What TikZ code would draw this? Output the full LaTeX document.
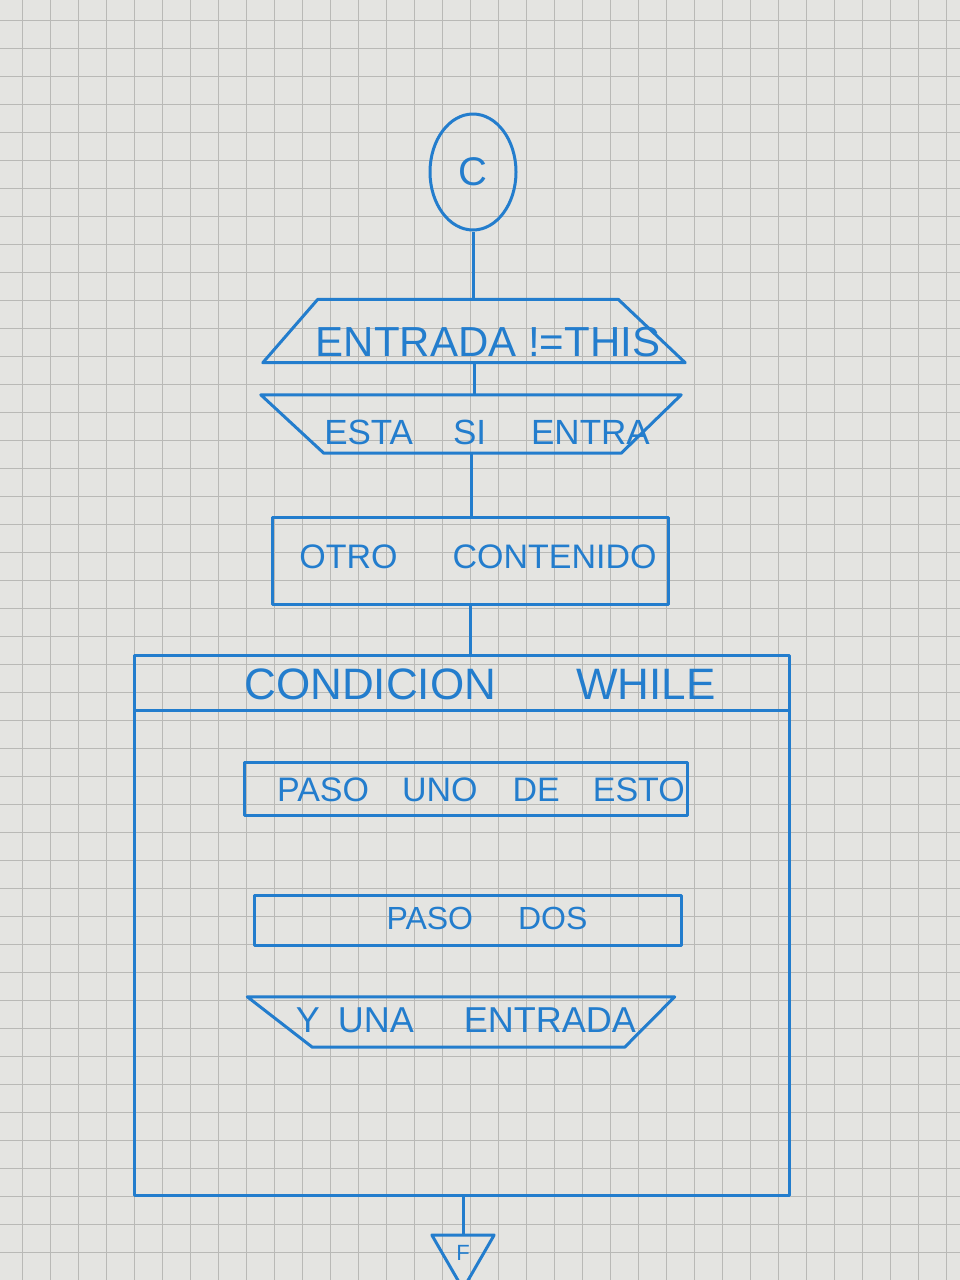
\documentclass[tikz,border=0pt]{standalone}
\usepackage{fontspec}
\setmainfont{Liberation Sans}
\usetikzlibrary{shapes.geometric,calc}
\definecolor{ink}{RGB}{35,125,205}
\definecolor{paper}{RGB}{228,228,225}
\definecolor{gridc}{RGB}{185,185,182}
\newcommand{\fs}[1]{\fontsize{#1}{#1}\selectfont}
\begin{document}
\begin{tikzpicture}[x=1pt,y=-1pt,
  inkline/.style={draw=ink,line width=3pt,line join=round},
  lbl/.style={text=ink,inner sep=0pt},
  ioarea/.style={rectangle,inner sep=0pt},
  procbox/.style={inkline,rectangle,inner sep=0pt},
  conn/.style={draw=ink,line width=3pt},
  gridline/.style={draw=gridc,line width=0.9pt}]
\fill[paper] (0,0) rectangle (960,1280);
\useasboundingbox (0,0) rectangle (960,1280);
\foreach \gx in {22,50,...,960} \draw[gridline] (\gx,0) -- (\gx,1280);
\foreach \gy in {20,48,...,1280} \draw[gridline] (0,\gy) -- (960,\gy);

% start connector
\node[inkline,ellipse,minimum width=86,minimum height=116,inner sep=0pt,text=ink,font={\fs{40}}] (start) at (473,172) {C};

% input / output shapes
\node[ioarea,minimum width=422,minimum height=63] (in1) at (474,331) {};
\draw[inkline] (in1.south west) -- ($(in1.north west)+(55,0)$) -- ($(in1.north east)+(-67,0)$) -- (in1.south east) -- cycle;
\node[lbl,font={\fs{42}}] (t1) at (488,342) {ENTRADA !=THIS};

\node[ioarea,minimum width=420,minimum height=58] (in2) at (471,424) {};
\draw[inkline] (in2.north west) -- (in2.north east) -- ($(in2.south east)+(-60,0)$) -- ($(in2.south west)+(63,0)$) -- cycle;
\node[lbl,font={\fs{35}}] (t2) at (487,432) {ESTA\hspace{40pt}SI\hspace{45pt}ENTRA};

\node[procbox,minimum width=396,minimum height=87] (otro) at (470,561) {};
\node[lbl,font={\fs{34}}] (t3) at (478,557) {OTRO\hspace{55pt}CONTENIDO};

% while loop frame
\node[procbox,minimum width=655,minimum height=540] (loop) at (462,925) {};
\draw[conn] ([yshift=-57pt]loop.north west) -- ([yshift=-57pt]loop.north east);
\node[lbl,font={\fs{44}}] (t4) at (480,684) {CONDICION\hspace{80pt}WHILE};

\node[procbox,minimum width=443,minimum height=53] (paso1) at (466,789) {};
\node[lbl,font={\fs{34}}] (t5) at (481,790) {PASO\hspace{33pt}UNO\hspace{35pt}DE\hspace{33pt}ESTO};

\node[procbox,minimum width=427,minimum height=50] (paso2) at (468,920) {};
\node[lbl,font={\fs{32}}] (t6) at (487,918) {PASO\hspace{45pt}DOS};

\node[ioarea,minimum width=427,minimum height=50] (in3) at (461,1022) {};
\draw[inkline] (in3.north west) -- (in3.north east) -- ($(in3.south east)+(-50,0)$) -- ($(in3.south west)+(65,0)$) -- cycle;
\node[lbl,font={\fs{36}}] (t7) at (466,1020) {Y\hspace{18pt}UNA\hspace{50pt}ENTRADA};

% end connector
\node[inkline,regular polygon,regular polygon sides=3,shape border rotate=180,minimum size=72,inner sep=0pt,text=ink,font={\fs{22}}] (fin) at (463,1253) {F};

% connectors
\draw[conn] (start.south) -- (start.south |- in1.north);
\draw[conn] (in1.south) -- (in1.south |- in2.north);
\draw[conn] (in2.south) -- (in2.south |- otro.north);
\draw[conn] (otro.south) -- (otro.south |- loop.north);
\draw[conn] (fin.north |- loop.south) -- (fin.north);
\end{tikzpicture}
\end{document}
